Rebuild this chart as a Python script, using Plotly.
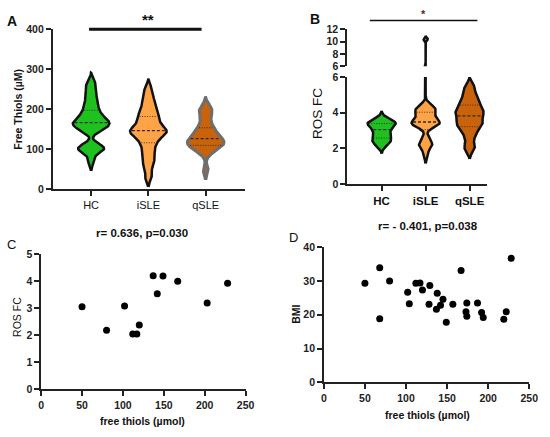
import numpy as np
import plotly.graph_objects as go

FONT = "Liberation Sans, Arial, sans-serif"

groups = ["HC", "iSLE", "qSLE"]
fill_colors = ["#1fc11f", "#ffa347", "#c8620b"]

# A: free thiols (uM) per group
thiols_hc = [70, 94, 98, 101, 104, 110, 145, 150, 155, 159, 163, 166,
             168, 173, 178, 185, 192, 202, 212, 224, 238, 252, 266]
thiols_isle = [30, 55, 70, 82, 95, 108, 118, 126, 133, 138, 142, 145,
               147, 152, 158, 165, 172, 180, 186, 195, 206, 218, 232, 251]
thiols_qsle = [48, 88, 98, 102, 105, 108, 112, 116, 118, 120, 124, 128,
               132, 136, 142, 148, 155, 165, 178, 190, 198, 207]

# B: ROS fold change per group
ros_hc = [2.2, 2.3, 2.45, 2.55, 2.65, 2.85, 3.0, 3.1, 3.3, 3.35, 3.4, 3.45, 3.5, 3.6]
ros_isle = [1.65, 2.1, 2.2, 2.3, 2.6, 3.2, 3.3, 3.35, 3.4, 3.45, 3.5, 3.6,
            3.75, 3.9, 4.0, 4.1, 4.2, 4.3, 4.4, 10.4]
ros_qsle = [1.9, 2.2, 2.6, 2.9, 3.1, 3.25, 3.35, 3.5, 3.6, 3.75, 3.9, 4.0,
            4.1, 4.2, 4.4, 4.5, 4.7, 4.9, 5.2, 5.5]

# C: free thiols vs ROS FC
c_thiols = [50, 80, 102, 112, 117, 120, 137, 149, 142, 167, 203, 228]
c_ros = [3.05, 2.18, 3.08, 2.04, 2.04, 2.37, 4.2, 4.19, 3.53, 3.99, 3.19, 3.92]

# D: free thiols vs BMI
d_thiols = [50, 68, 68, 80, 102, 104, 112, 117, 120, 129, 128, 138, 137, 142,
            145, 149, 157, 167, 174, 173, 174, 187, 192, 194, 219, 222, 228]
d_bmi = [29.3, 33.9, 18.8, 30.0, 26.7, 23.3, 29.3, 29.4, 27.3, 28.7, 23.1, 26.4,
         21.6, 22.8, 24.6, 17.8, 23.1, 33.1, 23.5, 20.9, 19.6, 23.5, 20.7, 19.2,
         18.7, 20.9, 36.7]

W, H = 550, 437


def px(x):
    return x / W


def py(y):
    return 1 - y / H


def kde_outline(vals, bw, half=0.32, n=500):
    # gaussian kde, drawn 2.5 bandwidths past the data like a soft violin span
    vals = np.asarray(vals, float)
    grid = np.linspace(vals.min() - 2.5 * bw, vals.max() + 2.5 * bw, n)
    dens = np.exp(-0.5 * ((grid[None, :] - vals[:, None]) / bw) ** 2).sum(0)
    return grid, dens / dens.max() * half


def add_violin(fig, vals, bw, pos, color, edge, edge_w, xa, y_axes):
    grid, w = kde_outline(vals, bw)
    xs = np.r_[pos + w, (pos - w)[::-1]]
    ys = np.r_[grid, grid[::-1]]
    for ya in y_axes:
        fig.add_trace(go.Scatter(
            x=xs, y=ys, xaxis=xa, yaxis=ya, mode="lines", fill="toself",
            fillcolor=color, line=dict(color=edge, width=edge_w),
            hoverinfo="skip", showlegend=False))
    q1, med, q3 = np.percentile(vals, [25, 50, 75])
    for q, dash, lw in ((q1, "1px,1.5px", 0.9), (med, "3px,2px", 1.3), (q3, "1px,1.5px", 0.9)):
        hw = np.interp(q, grid, w) - 0.03
        fig.add_trace(go.Scatter(
            x=[pos - hw, pos + hw], y=[q, q], xaxis=xa, yaxis=y_axes[0],
            mode="lines", line=dict(color="#2a2a2a", width=lw, dash=dash),
            hoverinfo="skip", showlegend=False))


fig = go.Figure()

# Panel A
a_edges = ["#111111", "#111111", "#6e6e6e"]
a_widths = [2.5, 2.5, 3]
for i, vals in enumerate([thiols_hc, thiols_isle, thiols_qsle]):
    add_violin(fig, vals, 10, i, fill_colors[i], a_edges[i], a_widths[i], "x", ["y"])

# Panel B (broken y axis: y2 lower 0-6, y3 upper 6-12)
for i, vals in enumerate([ros_hc, ros_isle, ros_qsle]):
    y_axes = ["y2", "y3"] if max(vals) > 6 else ["y2"]
    add_violin(fig, vals, 0.2, i, fill_colors[i], "#111111", 2.5, "x2", y_axes)

# Panel C / D scatter
fig.add_trace(go.Scatter(x=c_thiols, y=c_ros, xaxis="x4", yaxis="y4", mode="markers",
                         marker=dict(color="black", size=7), cliponaxis=False,
                         showlegend=False))
fig.add_trace(go.Scatter(x=d_thiols, y=d_bmi, xaxis="x5", yaxis="y5", mode="markers",
                         marker=dict(color="black", size=7), cliponaxis=False,
                         showlegend=False))

tick_font = dict(family=FONT, size=10.5, color="#222222", weight="bold")
ax = dict(showline=True, linecolor="#222222", linewidth=2, ticks="outside", ticklen=5,
          tickwidth=2, tickcolor="#222222", showgrid=False, zeroline=False,
          tickfont=tick_font, fixedrange=True)
ax_thin = dict(ax, linewidth=1.5, tickwidth=1.5)

fig.update_layout(
    width=W, height=H, autosize=False,
    margin=dict(l=0, r=0, t=0, b=0),
    paper_bgcolor="white", plot_bgcolor="white",
    xaxis=dict(ax, domain=[px(51), px(247)], range=[-0.667, 2.68], anchor="y",
               tickvals=[0, 1, 2], ticktext=groups,
               tickfont=dict(family=FONT, size=11, color="#111111")),
    yaxis=dict(ax, domain=[py(188), py(24)], range=[0, 400], dtick=100, anchor="x"),
    xaxis2=dict(ax, domain=[px(352), px(495)], range=[-0.78, 2.4], anchor="y2",
                tickvals=[0, 1, 2], ticktext=groups,
                tickfont=dict(family=FONT, size=11.5, color="#111111", weight="bold")),
    yaxis2=dict(ax, domain=[py(183), py(73)], range=[0, 6], tickvals=[0, 2, 4, 6], anchor="x2"),
    yaxis3=dict(ax, domain=[py(62), py(24)], range=[6, 12], tickvals=[6, 8, 10, 12], anchor="x2"),
    xaxis4=dict(ax_thin, domain=[px(39), px(248)], range=[0, 250], dtick=50, anchor="y4"),
    yaxis4=dict(ax_thin, domain=[py(394), py(255)], range=[0, 5], dtick=1, anchor="x4"),
    xaxis5=dict(ax_thin, domain=[px(328), px(538)], range=[0, 250], dtick=50, anchor="y5"),
    yaxis5=dict(ax_thin, domain=[py(387), py(248)], range=[0, 40], dtick=10, anchor="x5"),
)

# significance bars
fig.add_shape(type="line", xref="paper", yref="paper", x0=px(88), x1=px(203),
              y0=py(24), y1=py(24), line=dict(color="#111111", width=3))
fig.add_shape(type="line", xref="paper", yref="paper", x0=px(375), x1=px(485),
              y0=py(15), y1=py(15), line=dict(color="#111111", width=1.5))


def note(text, x, y, size, bold=True, angle=0, color="#111111"):
    fig.add_annotation(text=text, x=px(x), y=py(y), xref="paper", yref="paper",
                       showarrow=False, textangle=angle, xanchor="center", yanchor="middle",
                       font=dict(family=FONT, size=size, color=color,
                                 weight="bold" if bold else "normal"))


# panel letters
note("A", 9, 15, 14)
note("B", 319, 13, 14)
note("C", 9, 245, 13, bold=False)
note("D", 297, 238, 13, bold=False)

# significance stars
note("**", 148, 14, 15)
note("*", 430, 8, 11, color="#6a1b1b")

# axis titles
note("Free Thiols (\u00b5M)", 15, 106, 10.5, angle=-90)
note("ROS FC", 322, 110, 13.5, bold=False, angle=-90)
note("ROS FC", 15, 320, 10.5, bold=False, angle=-90)
note("BMI", 300, 317, 10.5, angle=-90)
note("free thiols (\u00b5mol)", 143, 427, 10.5)
note("free thiols (\u00b5mol)", 434, 421, 10.5)

# correlation titles
note("r= 0.636, p=0.030", 142, 233, 11.5)
note("r= - 0.401, p=0.038", 434, 226, 11.5)

# page body has a default 8px margin; drop it so the figure fills the window
fig.write_html("out.html", config={"displayModeBar": False},
               post_script="document.body.style.margin='0';document.body.style.overflow='hidden';")
